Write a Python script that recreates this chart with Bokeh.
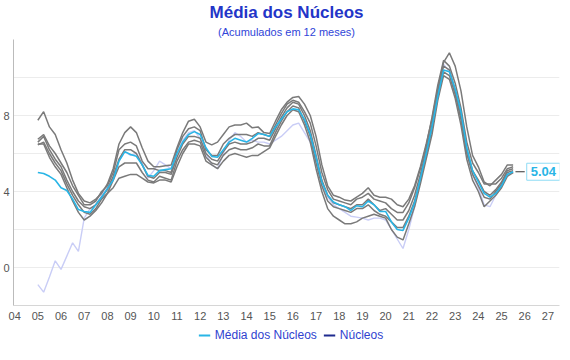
from bokeh.plotting import figure
from bokeh.layouts import column
from bokeh.models import (FixedTicker, Title, Legend, LegendItem, Label)
from bokeh.embed import file_html
from bokeh.resources import INLINE

# ---------------- data (quarterly, 2005 Q1 .. 2025 mid) ----------------
start_year = 2005
media = [5.0, 4.95, 4.8, 4.6,  4.2, 4.05, 3.6, 3.05,  2.95, 2.9, 3.3, 3.7,
         4.15, 4.6, 5.6, 6.1,  5.95, 5.85, 5.4, 4.85,  4.8, 5.1, 5.15, 5.2,
         6.0, 6.6, 7.0, 7.15,  7.0, 6.3, 5.85, 5.8,  6.2, 6.6, 6.8, 6.7,
         6.6, 6.8, 7.05, 7.0,  6.9, 7.4, 7.8, 8.2,  8.35, 8.3, 7.8, 7.0,
         5.8, 4.5, 3.8, 3.45,  3.3, 3.2, 3.0, 3.25,  3.2, 3.5, 3.3, 2.95,
         2.95, 2.4, 2.0, 1.95,  2.6, 3.4, 4.7, 6.0,  7.4, 9.0, 10.4, 10.3,
         9.4, 8.2, 6.3, 5.1,  4.5, 3.9, 3.7, 3.9,  4.3, 4.9, 5.04]

lavanda = [-0.9, -1.3, -0.5, 0.35,  -0.1, 0.6, 1.3, 0.85,  2.6, 3.1, 3.3, 3.8,
           4.2, 4.7, 5.6, 6.1,  5.9, 6.0, 5.5, 4.7,  5.1, 5.6, 5.4, 5.2,
           6.0, 6.7, 7.1, 7.2,  6.8, 6.0, 5.4, 5.2,  6.0, 6.7, 7.1, 6.9,
           6.6, 6.7, 6.6, 6.6,  6.5, 6.7, 6.9, 7.2,  7.5, 7.6, 7.1, 6.6,
           5.6, 4.4, 3.7, 3.3,  3.1, 2.9, 2.7, 2.65,  2.6, 2.5, 2.6, 2.6,
           2.5, 2.0, 1.5, 1.0,  2.0, 3.2, 4.6, 6.0,  7.5, 9.3, 10.7, 10.3,
           9.2, 8.0, 6.1, 4.9,  4.2, 3.3, 3.2, 3.8,  4.3, 4.9, 5.0]

nucleo_1 = [7.75, 8.2, 7.4, 7.0,  6.2, 5.5, 4.6, 3.9,  3.5, 3.4, 3.6, 3.9,
            4.4, 5.2, 6.5, 7.1,  7.4, 7.1, 6.3, 5.6,  5.3, 5.3, 5.35, 5.4,
            6.3, 7.1, 7.7, 7.8,  7.4, 6.6, 6.45, 6.6,  7.0, 7.4, 7.5, 7.5,
            7.6, 7.35, 7.4, 7.1,  7.05, 7.7, 8.3, 8.7,  8.95, 9.0, 8.6, 8.0,
            6.9, 5.4, 4.3, 3.8,  3.7, 3.55, 3.5, 3.7,  3.9, 4.2, 3.8, 3.7,
            3.7, 3.6, 3.3, 3.2,  3.6, 4.3, 5.3, 6.5,  7.8, 9.4, 10.8, 11.3,
            10.6, 9.3, 7.4, 5.9,  5.3, 4.5, 4.3, 4.6,  4.9, 5.4, 5.4]

nucleo_2 = [6.75, 7.0, 6.4, 6.0,  5.5, 5.0, 4.3, 3.8,  3.3, 3.3, 3.5, 4.0,
            4.3, 5.0, 6.2, 6.5,  6.6, 6.4, 5.6, 5.2,  5.2, 5.1, 5.1, 5.0,
            6.2, 6.9, 7.3, 7.4,  7.2, 6.2, 5.9, 5.9,  6.5, 6.8, 7.0, 7.0,
            7.0, 6.9, 7.1, 7.0,  6.9, 7.5, 8.1, 8.6,  8.8, 8.7, 8.2, 7.6,
            6.4, 5.0, 4.1, 3.6,  3.5, 3.4, 3.3, 3.6,  3.7, 3.9, 3.6, 3.5,
            3.4, 3.1, 2.9, 2.9,  3.4, 4.2, 5.2, 6.4,  7.9, 9.6, 10.9, 10.6,
            9.7, 8.4, 6.6, 5.5,  5.0, 4.4, 4.4, 4.4,  4.7, 5.2, 5.3]

nucleo_3 = [6.6, 6.9, 6.2, 5.7,  5.3, 4.6, 4.0, 3.5,  3.2, 3.1, 3.3, 3.7,
            4.1, 4.8, 5.7, 6.2,  6.2, 6.0, 5.4, 4.8,  4.7, 5.0, 5.0, 4.9,
            5.8, 6.5, 6.9, 6.9,  6.8, 6.0, 5.7, 5.6,  6.1, 6.5, 6.6, 6.5,
            6.5, 6.6, 6.8, 6.8,  6.7, 7.3, 7.9, 8.4,  8.7, 8.6, 8.0, 7.2,
            5.9, 4.6, 3.8, 3.4,  3.3, 3.2, 3.1, 3.3,  3.3, 3.6, 3.3, 3.0,
            3.1, 2.8, 2.5, 2.5,  3.0, 3.8, 4.9, 6.2,  7.5, 9.3, 10.6, 10.4,
            9.3, 8.0, 6.2, 5.1,  4.6, 4.0, 3.8, 4.1,  4.5, 5.1, 5.2]

nucleo_4 = [6.45, 6.6, 6.0, 5.5,  5.1, 4.4, 3.8, 3.3,  2.9, 2.8, 3.1, 3.6,
            3.9, 4.6, 5.3, 5.5,  5.5, 5.5, 5.0, 4.6,  4.5, 4.8, 4.7, 4.6,
            5.6, 6.2, 6.6, 6.7,  6.6, 5.8, 5.5, 5.4,  5.9, 6.2, 6.3, 6.2,
            6.2, 6.3, 6.5, 6.4,  6.4, 7.1, 7.7, 8.2,  8.5, 8.4, 7.7, 6.9,
            5.5, 4.3, 3.5, 3.2,  3.1, 3.0, 2.9, 3.1,  3.1, 3.3, 3.0, 2.8,
            2.7, 2.4, 2.1, 2.1,  2.7, 3.5, 4.6, 5.9,  7.3, 9.0, 10.3, 10.1,
            9.1, 7.8, 6.0, 4.9,  4.3, 3.7, 3.6, 4.0,  4.4, 5.0, 5.1]

nucleo_5 = [6.5, 6.5, 5.8, 5.3,  4.9, 4.2, 3.5, 2.9,  2.5, 2.7, 3.0, 3.4,
            3.9, 4.2, 4.7, 4.8,  4.9, 4.9, 4.7, 4.5,  4.45, 4.6, 4.6, 4.5,
            5.3, 6.0, 6.5, 6.5,  6.4, 5.6, 5.4, 5.2,  5.6, 5.9, 6.0, 5.9,
            5.8, 5.9, 5.9, 6.1,  6.3, 6.9, 7.5, 8.0,  8.3, 8.2, 7.5, 6.6,
            5.2, 4.0, 3.1, 2.7,  2.5, 2.3, 2.3, 2.4,  2.6, 2.7, 2.8, 2.7,
            2.6, 2.0, 1.6, 1.45,  2.3, 3.2, 4.4, 5.7,  7.0, 8.8, 10.1, 9.9,
            8.9, 7.5, 5.7, 4.6,  4.0, 3.2, 3.5, 3.8,  4.2, 4.8, 5.0]

year_ticks = list(range(2004, 2028))
year_labels = ["04", "05", "06", "07", "08", "09", "10", "11", "12", "13", "14", "15",
               "16", "17", "18", "19", "20", "21", "22", "23", "24", "25", "26", "27"]
y_label_ticks = [0, 4, 8]
y_grid_ticks = [0, 2, 4, 6, 8, 10]
legend_labels = ["Média dos Núcleos", "Núcleos"]

x = [start_year + 0.25 * i for i in range(len(media))]

# ---------------- main figure ----------------
FONT = "Liberation Sans"
p = figure(frame_width=546, frame_height=266, output_backend="svg", toolbar_location=None,
           x_range=(2003.95, 2027.5), y_range=(-2, 12),
           min_border_left=2, min_border_right=2, min_border_top=2, min_border_bottom=0)
p.outline_line_color = None
p.background_fill_color = "white"

sub = Title(text="(Acumulados em 12 meses)", align="center", text_font=FONT,
            text_font_size="11px", text_color="#3045d8", text_font_style="normal", standoff=4)
p.add_layout(sub, "above")
main = Title(text="Média dos Núcleos", align="center", text_font=FONT,
             text_font_size="17px", text_color="#2335c8", text_font_style="bold", standoff=0)
p.add_layout(main, "above")

# axes
p.xaxis.ticker = FixedTicker(ticks=year_ticks)
p.xaxis.major_label_overrides = {t: l for t, l in zip(year_ticks, year_labels)}
p.yaxis.ticker = FixedTicker(ticks=y_label_ticks)
for ax in (p.xaxis, p.yaxis):
    ax.major_tick_line_color = None
    ax.minor_tick_line_color = None
    ax.major_tick_out = 0
    ax.major_tick_in = 0
    ax.major_label_text_font = FONT
    ax.major_label_text_font_size = "11px"
    ax.major_label_text_color = "#555555"
p.xaxis.axis_line_color = "#d6d6d6"
p.yaxis.axis_line_color = "#bbbbbb"
p.xaxis.major_label_standoff = 6
p.yaxis.major_label_standoff = 4
p.xgrid.grid_line_color = None
p.ygrid.ticker = FixedTicker(ticks=y_grid_ticks)
p.ygrid.grid_line_color = "#ececec"
p.ygrid.grid_line_width = 1

# lines
p.line(x, lavanda, line_color="#c9cdf6", line_width=1.4)
for s in (nucleo_5, nucleo_4, nucleo_3, nucleo_2, nucleo_1):
    p.line(x, s, line_color="#7a7a7a", line_width=1.5)
p.line(x, media, line_color="#29b5e6", line_width=1.6)

# end label with connector
lx, ly = x[-1], media[-1]
p.segment(x0=[lx + 0.1], y0=[ly], x1=[lx + 0.5], y1=[ly], line_color="#333333", line_width=1.2)
lab = Label(x=lx + 0.5, y=ly, text=f"{ly:.2f}", x_offset=2, text_baseline="middle",
            text_font=FONT, text_font_size="13px", text_font_style="bold",
            text_color="#29b5e6", background_fill_color="white",
            border_line_color="#8fdcf5", border_line_width=1,
            padding=4)
p.add_layout(lab)

# ---------------- legend strip ----------------
lg = figure(width=p.frame_width + 24, height=26, output_backend="svg", toolbar_location=None,
            x_range=(0, 1), y_range=(0, 1), x_axis_type=None, y_axis_type=None,
            min_border=0)
lg.outline_line_color = None
lg.grid.visible = False
r1 = lg.line(x=[float("nan")], y=[float("nan")], line_color="#29b5e6", line_width=2)
r2 = lg.line(x=[float("nan")], y=[float("nan")], line_color="#1f2b8f", line_width=2)
legend = Legend(items=[LegendItem(label=legend_labels[0], renderers=[r1]),
                       LegendItem(label=legend_labels[1], renderers=[r2])],
                orientation="horizontal", location="center",
                label_text_font=FONT, label_text_font_size="12px", label_text_color="#2f42cf",
                glyph_width=12, glyph_height=10, spacing=6, label_standoff=5,
                label_height=14,
                border_line_color=None, background_fill_alpha=0, padding=0, margin=0)
lg.add_layout(legend, "center")

open("out.html", "w").write(file_html(column(p, lg), INLINE))
